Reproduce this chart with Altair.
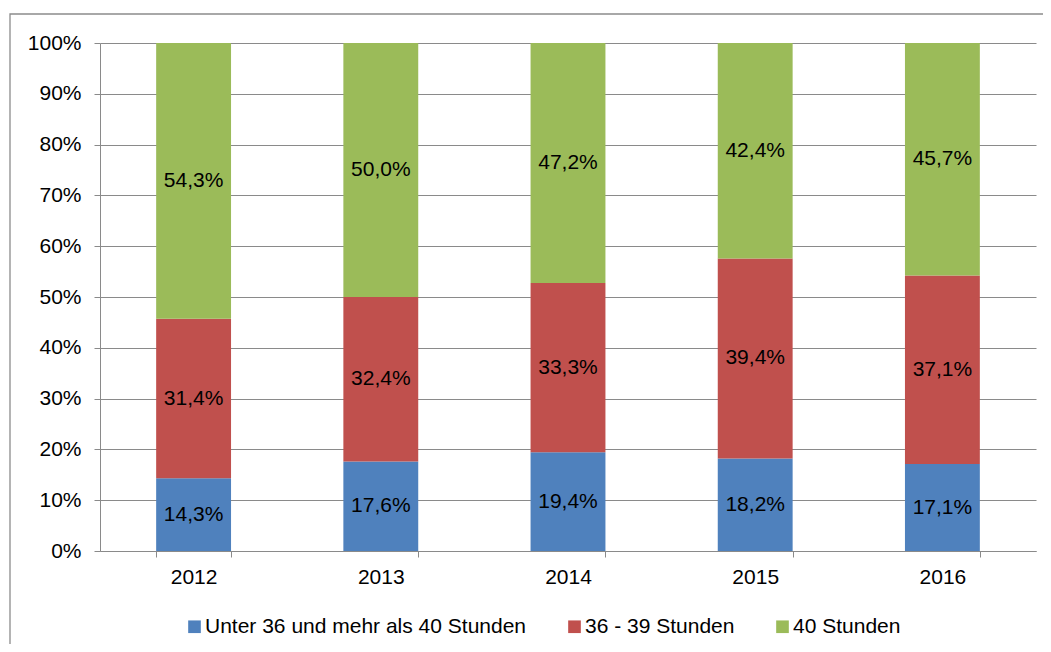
import altair as alt
import pandas as pd

years = ["2012", "2013", "2014", "2015", "2016"]
series = ["Unter 36 und mehr als 40 Stunden", "36 - 39 Stunden", "40 Stunden"]
colors = ["#4F81BD", "#C0504D", "#9BBB59"]
under36 = [14.3, 17.6, 19.4, 18.2, 17.1]
h36_39 = [31.4, 32.4, 33.3, 39.4, 37.1]
h40 = [54.3, 50.0, 47.2, 42.4, 45.7]

rows = []
for i, y in enumerate(years):
    for k, vals in enumerate([under36, h36_39, h40]):
        v = vals[i]
        rows.append({"year": y, "series": series[k], "idx": k, "value": v,
                     "label": f"{v:.1f}%".replace(".", ",")})
df = pd.DataFrame(rows)

FONT = "Liberation Sans"
FS = 21
GRID = "#8a8a8a"

x_enc = alt.X("year:N", title=None,
              scale=alt.Scale(paddingInner=0.6, paddingOuter=0.3),
              axis=alt.Axis(labelAngle=0, tickBand="extent", tickSize=6,
                            labelPadding=9, domainColor=GRID, tickColor=GRID,
                            labelFontSize=FS, labelFont=FONT, labelColor="black",
                            grid=False))

bars = alt.Chart(df).mark_bar().encode(
    x=x_enc,
    y=alt.Y("value:Q", stack="normalize", title=None,
            scale=alt.Scale(domain=[0, 1], nice=False),
            axis=alt.Axis(format=".0%", values=[i / 10 for i in range(11)],
                          tickSize=6, labelPadding=13, domainColor=GRID,
                          tickColor=GRID, gridColor=GRID, gridWidth=1.2,
                          labelFontSize=FS, labelFont=FONT, labelColor="black")),
    color=alt.Color("series:N", scale=alt.Scale(domain=series, range=colors),
                    legend=alt.Legend(orient="none", legendX=84, legendY=573,
                                      direction="horizontal", columns=3, title=None,
                                      symbolType="square", symbolSize=160,
                                      symbolStrokeWidth=0, labelFontSize=FS,
                                      labelFont=FONT, labelColor="black",
                                      labelOffset=0, columnPadding=37,
                                      labelLimit=600)),
    order=alt.Order("idx:Q", sort="ascending"),
)

texts = alt.Chart(df).transform_joinaggregate(
    total="sum(value)", groupby=["year"]
).transform_stack(
    stack="value", groupby=["year"], as_=["v0", "v1"],
    sort=[alt.SortField("idx", order="ascending")]
).transform_calculate(
    mid="(datum.v0 + datum.v1) / 2 / datum.total"
).mark_text(font=FONT, fontSize=FS, color="black").encode(
    x=alt.X("year:N"),
    y=alt.Y("mid:Q"),
    text="label:N",
)

border = alt.Chart(pd.DataFrame({"a": [0]})).mark_rect(
    fillOpacity=0, stroke="#8c8c8c", strokeWidth=1.3, clip=False
).encode(x=alt.value(-90), x2=alt.value(1100), y=alt.value(-29), y2=alt.value(800))

chart = alt.layer(border, bars, texts).properties(
    width=936, height=508,
    autosize=alt.AutoSizeParams(type="none"),
    padding={"left": 92, "top": 35, "right": 7, "bottom": 93},
).configure_view(stroke=None)

chart.save("out.html", embed_options={"renderer": "svg", "actions": False})
